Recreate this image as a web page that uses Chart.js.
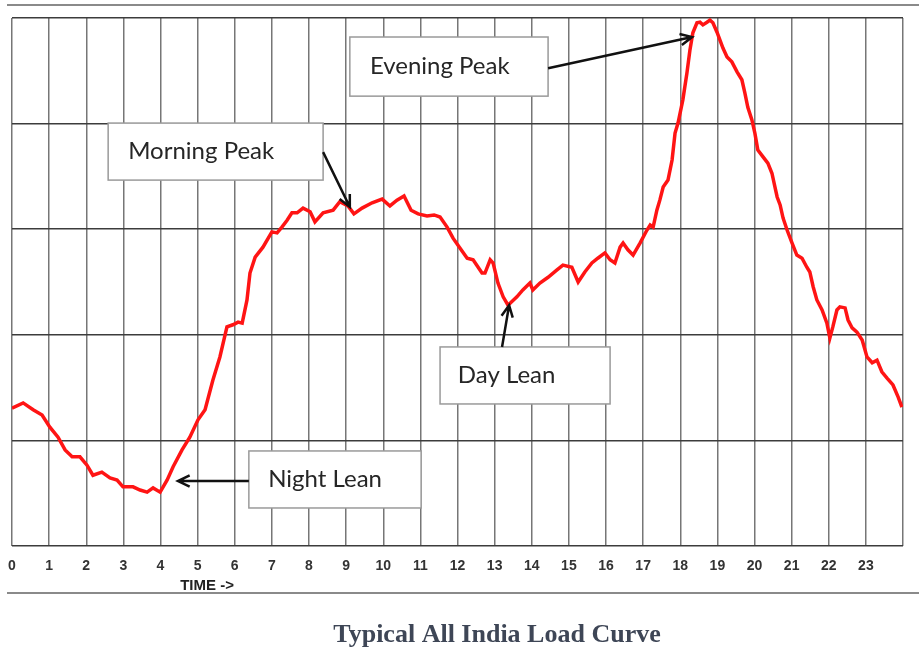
<!DOCTYPE html>
<html>
<head>
<meta charset="utf-8">
<title>Typical All India Load Curve</title>
<script src="https://cdn.jsdelivr.net/npm/chart.js"></script>
<style>
  html, body { margin: 0; padding: 0; background: #fff; }
  #chart { display: block; }
</style>
</head>
<body>
<canvas id="chart" width="919" height="649"></canvas>
<script>
// --- data (time of day in hours, load as % of the evening peak scale) ---
const hours = [
  0, 0.30, 0.57, 0.81, 1.02, 1.24, 1.43, 1.62, 1.83, 2.02,
  2.18, 2.42, 2.64, 2.83, 2.99, 3.26, 3.45, 3.64, 3.80, 3.99,
  4.18, 4.34, 4.58, 4.79, 5.01, 5.20, 5.41, 5.60, 5.79, 5.95,
  6.09, 6.20, 6.33, 6.41, 6.55, 6.76, 7.00, 7.14, 7.27, 7.41,
  7.54, 7.68, 7.84, 8.03, 8.16, 8.38, 8.65, 8.83, 9.05, 9.21,
  9.43, 9.70, 9.97, 10.18, 10.37, 10.56, 10.75, 10.94, 11.18, 11.37,
  11.53, 11.72, 11.88, 12.07, 12.26, 12.42, 12.66, 12.74, 12.88, 12.96,
  13.09, 13.23, 13.36, 13.60, 13.76, 13.95, 14.03, 14.22, 14.44, 14.68,
  14.84, 15.08, 15.25, 15.43, 15.62, 15.78, 15.97, 16.11, 16.24, 16.38,
  16.46, 16.59, 16.73, 16.92, 17.10, 17.19, 17.27, 17.37, 17.45, 17.54,
  17.67, 17.78, 17.86, 17.94, 18.07, 18.18, 18.26, 18.34, 18.45, 18.53,
  18.61, 18.72, 18.80, 18.88, 18.99, 19.07, 19.15, 19.26, 19.39, 19.53,
  19.66, 19.74, 19.82, 19.93, 20.01, 20.09, 20.23, 20.36, 20.47, 20.55,
  20.61, 20.69, 20.77, 20.88, 21.01, 21.14, 21.28, 21.41, 21.49, 21.58,
  21.68, 21.82, 21.95, 22.03, 22.11, 22.22, 22.30, 22.44, 22.52, 22.63,
  22.76, 22.90, 23.03, 23.17, 23.30, 23.43, 23.57, 23.73, 23.87, 23.97
];
const loads = [
  26.1, 27.1, 25.8, 24.8, 22.5, 20.6, 18.2, 16.9, 16.9, 15.3,
  13.4, 14.0, 12.9, 12.5, 11.2, 11.2, 10.6, 10.2, 11.0, 10.2,
  12.5, 15.0, 18.2, 20.6, 23.9, 25.8, 31.4, 35.8, 41.5, 41.9,
  42.4, 42.2, 46.6, 51.7, 54.7, 56.6, 59.5, 59.3, 60.4, 61.7,
  63.1, 63.1, 64.0, 63.3, 61.4, 63.1, 63.6, 65.2, 64.4, 62.9,
  64.0, 65.0, 65.7, 64.4, 65.5, 66.3, 63.6, 62.9, 62.5, 62.7,
  62.3, 60.4, 58.3, 56.4, 54.5, 54.2, 51.7, 51.7, 54.2, 53.6,
  49.8, 47.2, 45.6, 47.2, 48.5, 49.8, 48.5, 49.8, 50.9, 52.3,
  53.2, 52.8, 50.0, 51.9, 53.6, 54.5, 55.5, 54.2, 53.6, 56.6,
  57.4, 56.1, 55.1, 57.4, 59.8, 60.8, 60.4, 63.6, 65.5, 68.0,
  69.3, 73.1, 78.2, 80.1, 84.5, 89.6, 93.9, 97.2, 99.1, 99.2,
  98.7, 99.2, 99.6, 99.1, 97.3, 95.8, 94.3, 92.6, 91.7, 89.8,
  88.3, 85.8, 83.1, 80.7, 78.2, 75.0, 73.7, 72.5, 70.6, 68.0,
  66.1, 64.6, 62.1, 59.8, 57.4, 55.1, 54.5, 52.8, 51.9, 49.1,
  46.6, 44.7, 42.2, 39.4, 41.5, 44.7, 45.3, 45.1, 42.8, 41.3,
  40.5, 39.0, 35.8, 34.7, 35.2, 33.0, 31.8, 30.5, 28.2, 26.3
];
// hour ticks 0..24 (24 has no label in the picture)
const hourTicks = [0, 1, 2, 3, 4, 5, 6, 7, 8, 9, 10, 11, 12, 13, 14, 15, 16, 17, 18, 19, 20, 21, 22, 23, 24];
const chartTitle = 'Typical All India Load Curve';
const axisNote = 'TIME ->';

// callout boxes, in data units (hours / load)
const callouts = [
  { text: 'Morning Peak', box: [2.59, 80.1, 8.38, 69.3], textX: 3.13, from: [8.38, 74.6], to: [9.10, 64.2] },
  { text: 'Evening Peak', box: [9.10, 96.4, 14.44, 85.2], textX: 9.64, from: [14.44, 90.5], to: [18.32, 96.4] },
  { text: 'Day Lean',     box: [11.53, 37.7, 16.11, 26.9], textX: 12.01, from: [13.20, 37.7], to: [13.39, 45.6] },
  { text: 'Night Lean',   box: [6.38, 18.0, 11.02, 7.2], textX: 6.90, from: [6.38, 12.3], to: [4.47, 12.3] }
];

// 矢印を描く（先端は開いた「く」の字）
function drawArrow(ctx, x1, y1, x2, y2) {
  const ang = Math.atan2(y2 - y1, x2 - x1);
  const len = 13;
  ctx.beginPath();
  ctx.moveTo(x1, y1);
  ctx.lineTo(x2, y2);
  ctx.moveTo(x2 - len * Math.cos(ang - 0.45), y2 - len * Math.sin(ang - 0.45));
  ctx.lineTo(x2, y2);
  ctx.lineTo(x2 - len * Math.cos(ang + 0.45), y2 - len * Math.sin(ang + 0.45));
  ctx.stroke();
}

const calloutPlugin = {
  id: 'callouts',
  afterDatasetsDraw(chart) {
    const { ctx, scales: { x, y } } = chart;
    ctx.save();
    callouts.forEach(c => {
      const bx1 = x.getPixelForValue(c.box[0]), by1 = y.getPixelForValue(c.box[1]);
      const bx2 = x.getPixelForValue(c.box[2]), by2 = y.getPixelForValue(c.box[3]);
      ctx.fillStyle = '#ffffff';
      ctx.fillRect(bx1, by1, bx2 - bx1, by2 - by1);
      ctx.strokeStyle = '#9a9a9a';
      ctx.lineWidth = 1.5;
      ctx.strokeRect(bx1, by1, bx2 - bx1, by2 - by1);

      ctx.fillStyle = '#262626';
      ctx.font = '24px Lato';
      ctx.textBaseline = 'middle';
      ctx.textAlign = 'left';
      ctx.fillText(c.text, x.getPixelForValue(c.textX), (by1 + by2) / 2);

      ctx.strokeStyle = '#111111';
      ctx.lineWidth = 2.5;
      drawArrow(ctx, x.getPixelForValue(c.from[0]), y.getPixelForValue(c.from[1]),
                x.getPixelForValue(c.to[0]), y.getPixelForValue(c.to[1]));
    });
    ctx.restore();
  },
  afterDraw(chart) {
    const { ctx } = chart;
    ctx.save();
    // frame lines of the cropped picture
    ctx.strokeStyle = '#8a8a8a';
    ctx.lineWidth = 2;
    ctx.beginPath();
    ctx.moveTo(7, 5); ctx.lineTo(919, 5);
    ctx.moveTo(7, 593); ctx.lineTo(919, 593);
    ctx.stroke();

    ctx.fillStyle = '#222';
    ctx.font = 'bold 15px "Liberation Sans"';
    ctx.textAlign = 'left';
    ctx.textBaseline = 'middle';
    ctx.fillText(axisNote, chart.scales.x.getPixelForValue(4.53), 586);

    ctx.fillStyle = '#3e4656';
    ctx.font = 'bold 26px "Liberation Serif"';
    ctx.textAlign = 'center';
    ctx.fillText(chartTitle, 497, 635);
    ctx.restore();
  }
};

new Chart(document.getElementById('chart'), {
  type: 'line',
  data: {
    datasets: [{
      label: 'Load',
      data: hours.map((h, i) => ({ x: h, y: loads[i] })),
      borderColor: '#ff1414',
      borderWidth: 3.5,
      pointRadius: 0,
      tension: 0,
      fill: false
    }]
  },
  options: {
    responsive: false,
    animation: false,
    layout: { padding: { left: 12, right: 16, top: 18, bottom: 0 } },
    plugins: {
      legend: { display: false },
      tooltip: { enabled: false },
      title: { display: false }
    },
    scales: {
      x: {
        type: 'linear',
        min: 0,
        max: 24,
        afterFit(s) {
          s.height = 103;
          // ラベルのはみ出し分の余白は使わない（左端を 0 時の線に合わせる）
          s.paddingLeft = 0;
          s.paddingRight = 0;
        },
        afterBuildTicks(s) { s.ticks = hourTicks.map(v => ({ value: v })); },
        ticks: {
          autoSkip: false,
          maxRotation: 0,
          padding: 12,
          color: '#333',
          font: { family: '"Liberation Sans"', size: 14, weight: 'bold' },
          callback: v => (v < 24 ? v : '')
        },
        grid: { color: '#767676', lineWidth: 1.5, drawTicks: false },
        border: { display: false }
      },
      y: {
        min: 0,
        max: 100,
        afterFit(s) { s.width = 0; },
        ticks: { display: false, stepSize: 20 },
        grid: { color: '#3c3c3c', lineWidth: 1.5, drawTicks: false },
        border: { display: false }
      }
    }
  },
  plugins: [calloutPlugin]
});
</script>
</body>
</html>
